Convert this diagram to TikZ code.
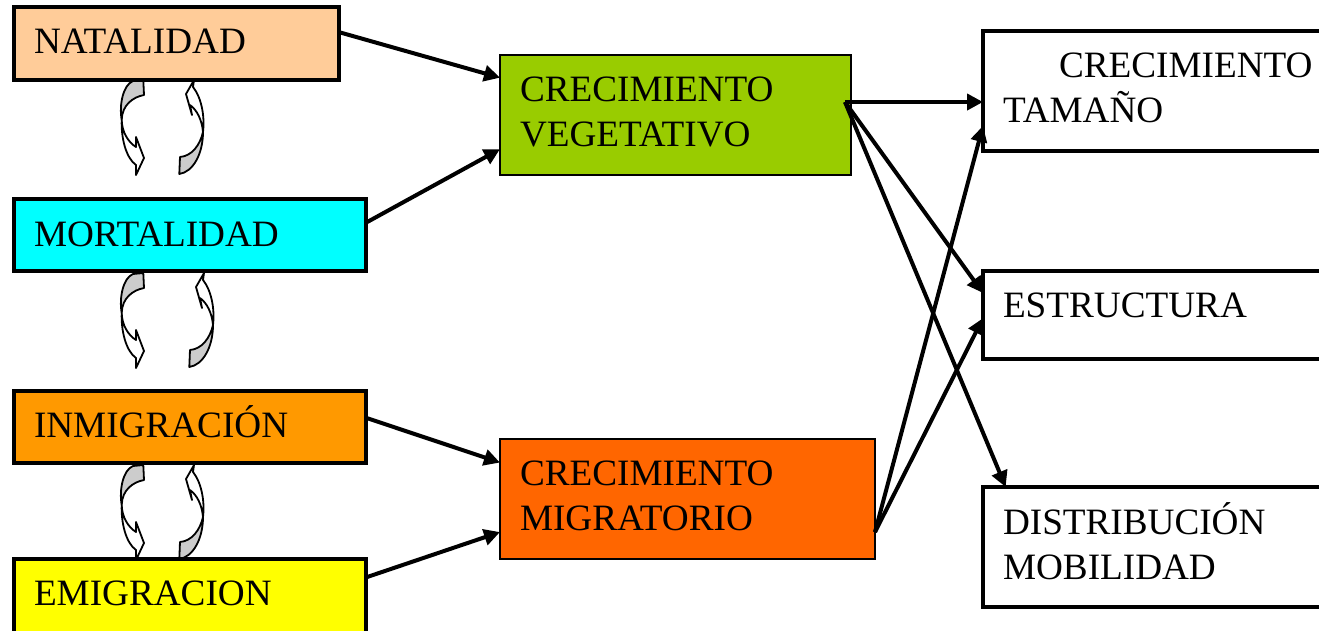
\documentclass[tikz,border=0pt]{standalone}
\usepackage{fontspec}
\setmainfont{Liberation Serif}
\usetikzlibrary{arrows.meta, calc, positioning}
\definecolor{colNatalidad}{HTML}{FFCC99}
\definecolor{colMortalidad}{HTML}{00FFFF}
\definecolor{colInmigracion}{HTML}{FF9900}
\definecolor{colEmigracion}{HTML}{FFFF00}
\definecolor{colVegetativo}{HTML}{99CC00}
\definecolor{colMigratorio}{HTML}{FF6600}
\definecolor{colLoop}{HTML}{CCCCCC}
\tikzset{
	factor/.style = {rectangle, draw=black, line width=4pt, outer sep=0pt, inner xsep=20pt, inner ysep=0pt, align=left, text width=#1, minimum height=72pt, font=\fontsize{37.2}{45}\selectfont},
	growth/.style = {rectangle, draw=black, line width=2.6pt, outer sep=0pt, inner xsep=20pt, inner ysep=0pt, align=left, text width=#1, minimum height=120pt, text depth=51pt, font=\fontsize{37.2}{45}\selectfont},
	result/.style = {rectangle, draw=black, fill=white, line width=4pt, outer sep=0pt, inner xsep=20pt, inner ysep=0pt, align=left, text width=318pt, font=\fontsize{37.2}{45}\selectfont},
	arrow/.style = {line width=4pt, -{Triangle[length=16pt,width=16pt]}},
	loopline/.style = {draw=black, line width=1.8pt, line join=round},
}
% one pair of curved arrows, #1 is how far the right one moves
\newcommand{\looppair}[2]{
	\begin{scope}[shift={(#1)}]
		\path[loopline, fill=colLoop] (43.3,10) -- (44,25) .. controls (33,27) and (22,35) .. (21.7,50) .. controls (19,35) and (23,15) .. (33,11) -- cycle;
		\path[loopline, fill=white] (21.7,50) .. controls (21,68) and (26,88) .. (36,95) -- (36,105) -- (44,88) -- (36,67) -- (36,77) .. controls (28,72) and (22,62) .. cycle;
		\begin{scope}[xshift=#2pt]
			\path[loopline, fill=colLoop] (80,87) -- (79.3,104) .. controls (93,102) and (103,84) .. (103,62) .. controls (100,75) and (92,86) .. cycle;
			\path[loopline, fill=white] (103,62) .. controls (105,45) and (101,27) .. (93,17) -- (94,10) -- (86,24) -- (92,45) -- (90,35) .. controls (97,40) and (102,50) .. cycle;
		\end{scope}
	\end{scope}
}
\begin{document}
\begin{tikzpicture}[x=1pt, y=-1pt]
	\useasboundingbox (0,0) rectangle (1319,630);
	\looppair{100,70}{0}
	\looppair{100,263}{10}
	\looppair{100,455}{0}
	\node (Natalidad) [factor=285pt, fill=colNatalidad, minimum height=73pt, text depth=4pt] at (176.5,43.5) {NATALIDAD};
	\node (Mortalidad) [factor=312pt, fill=colMortalidad, text depth=2pt, below = 119pt of Natalidad.south west, anchor=north west] {MORTALIDAD};
	\node (Inmigracion) [factor=312pt, fill=colInmigracion, text depth=10pt, below = 120pt of Mortalidad] {INMIGRACIÓN};
	\node (Emigracion) [factor=312pt, fill=colEmigracion, minimum height=80pt, text depth=12pt, below = 96pt of Inmigracion] {EMIGRACION};
	\node (Vegetativo) [growth=311pt, fill=colVegetativo] at (675.5,115) {CRECIMIENTO\\VEGETATIVO};
	\node (Migratorio) [growth=335pt, fill=colMigratorio, below = 264pt of Vegetativo.south west, anchor=north west] {CRECIMIENTO\\MIGRATORIO};
	\node (Tamano) [result, minimum height=120pt, text depth=51pt] at (1162,91) {\hspace*{56pt}CRECIMIENTO\\TAMAÑO};
	\node (Estructura) [result, minimum height=88pt, text depth=19pt, below = 120pt of Tamano] {ESTRUCTURA};
	\node (Distribucion) [result, minimum height=120pt, text depth=57pt, below = 128pt of Estructura] {DISTRIBUCIÓN\\MOBILIDAD};
	\coordinate (VegetativoOut) at (845,102);
	\draw [arrow] (Natalidad.4.4) -- (Vegetativo.168.1);
	\draw [arrow] (Mortalidad.4.5) -- (Vegetativo.191.6);
	\draw [arrow] (Inmigracion.3.6) -- (Migratorio.169.1);
	\draw [arrow] (Emigracion.7.8) -- (Migratorio.190.9);
	\draw [arrow] (VegetativoOut) -- (VegetativoOut -| Tamano.west);
	\draw [arrow] (VegetativoOut) -- (Estructura.173.6);
	\draw [arrow] (VegetativoOut) -- (Distribucion.159.8);
	\draw [arrow] (Migratorio.-10.9) -- (Tamano.191.4);
	\draw [arrow] (Migratorio.-10.9) -- (Estructura.181.6);
\end{tikzpicture}
\end{document}
